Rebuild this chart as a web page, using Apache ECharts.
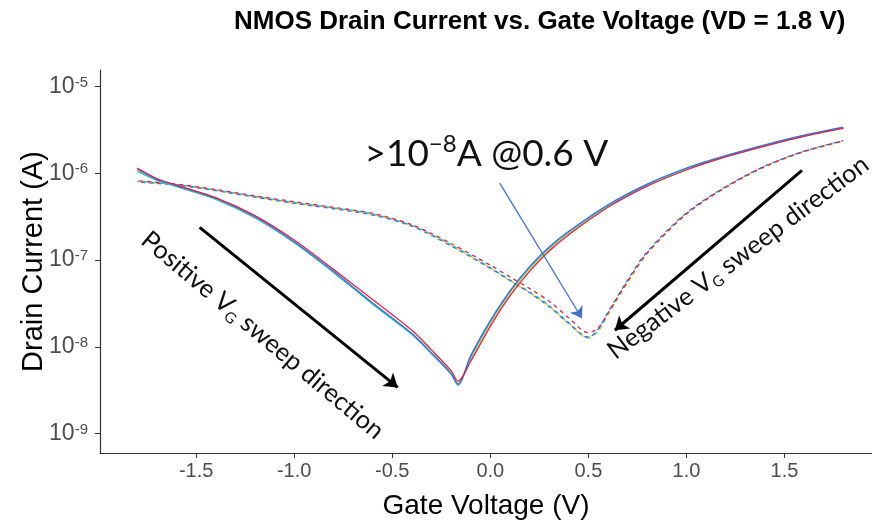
<!DOCTYPE html>
<html><head><meta charset="utf-8">
<script src="https://cdn.jsdelivr.net/npm/echarts@6/dist/echarts.min.js"></script>
<style>html,body{margin:0;padding:0;background:#fff}#c{width:872px;height:521px}</style>
</head><body><div id="c"></div>
<script>
// Forward (positive VG sweep, solid) gate voltages and drain currents per device
const fwdV = [-1.8,-1.7,-1.6,-1.4,-1.2,-1.0,-0.8,-0.6,-0.4,-0.3,-0.2,-0.165,-0.1,0,0.1,0.2,0.3,0.4,0.6,0.8,1.0,1.2,1.4,1.6,1.8];
const fwdYellow = [1.08e-6,8.4e-7,7.1e-7,5.1e-7,3.1e-7,1.6e-7,7.3e-8,3.2e-8,1.42e-8,8.6e-9,5.0e-9,3.8e-9,7.2e-9,1.85e-8,4.1e-8,7.8e-8,1.33e-7,2.03e-7,4.15e-7,7.25e-7,1.11e-6,1.56e-6,2.08e-6,2.7e-6,3.33e-6];
const fwdTeal   = [1.05e-6,8.3e-7,7.0e-7,5.0e-7,3.05e-7,1.58e-7,7.2e-8,3.1e-8,1.38e-8,8.3e-9,4.8e-9,3.6e-9,7.6e-9,1.95e-8,4.3e-8,8.2e-8,1.38e-7,2.1e-7,4.25e-7,7.4e-7,1.13e-6,1.58e-6,2.1e-6,2.72e-6,3.36e-6];
const fwdBlue   = [1.12e-6,8.5e-7,7.2e-7,5.15e-7,3.15e-7,1.62e-7,7.4e-8,3.2e-8,1.42e-8,8.5e-9,4.9e-9,3.7e-9,7.9e-9,2.0e-8,4.4e-8,8.4e-8,1.41e-7,2.14e-7,4.33e-7,7.5e-7,1.15e-6,1.6e-6,2.13e-6,2.75e-6,3.4e-6];
const fwdRed    = [1.15e-6,8.7e-7,7.3e-7,5.25e-7,3.25e-7,1.7e-7,7.8e-8,3.5e-8,1.55e-8,9.2e-9,5.3e-9,4.0e-9,6.8e-9,1.72e-8,3.85e-8,7.4e-8,1.27e-7,1.96e-7,4.05e-7,7.1e-7,1.09e-6,1.54e-6,2.06e-6,2.67e-6,3.3e-6];

// Reverse (negative VG sweep, dashed)
const revV = [-1.8,-1.6,-1.4,-1.2,-1.0,-0.8,-0.6,-0.4,-0.2,0,0.1,0.2,0.3,0.4,0.5,0.55,0.6,0.7,0.8,1.0,1.2,1.4,1.6,1.8];
const revYellow = [8.0e-7,7.35e-7,6.35e-7,5.35e-7,4.55e-7,3.95e-7,3.35e-7,2.5e-7,1.48e-7,8.1e-8,5.8e-8,4.2e-8,2.95e-8,1.85e-8,1.25e-8,1.5e-8,2.3e-8,5.4e-8,1.17e-7,3.35e-7,6.8e-7,1.18e-6,1.76e-6,2.33e-6];
const revTeal   = [8.1e-7,7.4e-7,6.4e-7,5.4e-7,4.6e-7,4.0e-7,3.4e-7,2.5e-7,1.5e-7,8.2e-8,5.9e-8,4.3e-8,3.0e-8,1.9e-8,1.3e-8,1.55e-8,2.4e-8,5.6e-8,1.2e-7,3.4e-7,6.9e-7,1.2e-6,1.78e-6,2.35e-6];
const revBlue   = [7.9e-7,7.3e-7,6.3e-7,5.3e-7,4.5e-7,3.9e-7,3.3e-7,2.45e-7,1.45e-7,8.0e-8,5.8e-8,4.2e-8,2.9e-8,1.85e-8,1.28e-8,1.6e-8,2.5e-8,5.9e-8,1.25e-7,3.5e-7,7.0e-7,1.21e-6,1.8e-6,2.38e-6];
const revRed    = [8.2e-7,7.5e-7,6.5e-7,5.5e-7,4.7e-7,4.05e-7,3.45e-7,2.55e-7,1.55e-7,8.7e-8,6.4e-8,4.7e-8,3.35e-8,2.15e-8,1.45e-8,1.65e-8,2.45e-8,5.7e-8,1.21e-7,3.42e-7,6.92e-7,1.2e-6,1.79e-6,2.36e-6];

const xTicks = [-1.5,-1.0,-0.5,0.0,0.5,1.0,1.5];
const yTicks = [1e-9,1e-8,1e-7,1e-6,1e-5];

// Annotation arrows (data coordinates: [V, A])
const arrowBlue = [[0.048, 7.7e-7],[0.467, 2.13e-8]];
const arrowPos  = [[-1.482, 2.38e-7],[-0.472, 3.4e-9]];
const arrowNeg  = [[1.589, 1.08e-6],[0.635, 1.55e-8]];
// Annotation text anchors (data coordinates)
const noteAnchor = [-0.02, 1.66e-6];
const posAnchor  = [-1.161, 1.355e-8];
const negAnchor  = [1.263, 1.07e-7];

const colors = {yellow:'#EFCB2F', teal:'#35BFC9', blue:'#3D6FD6', red:'#D62650'};
function pairs(v, ys){ return v.map((x,i)=>[x, ys[i]]); }

const series = [];
[['yellow',fwdYellow],['teal',fwdTeal],['blue',fwdBlue],['red',fwdRed]].forEach(([c,d])=>{
  series.push({type:'line', name:'fwd-'+c, data:pairs(fwdV,d), showSymbol:false, smooth:0.3,
    lineStyle:{color:colors[c], width:1.3}, itemStyle:{color:colors[c]}, z:3, silent:true});
});
[['yellow',revYellow,0],['teal',revTeal,2],['blue',revBlue,4],['red',revRed,6]].forEach(([c,d,o])=>{
  series.push({type:'line', name:'rev-'+c, data:pairs(revV,d), showSymbol:false, smooth:0.3,
    lineStyle:{color:colors[c], width:1.3, type:[4,4], dashOffset:o}, itemStyle:{color:colors[c]}, z:2, silent:true});
});
series.push({type:'line', name:'annot', data:[], silent:true,
  markLine:{silent:true, animation:false, symbol:['none','arrow'], symbolSize:13, label:{show:false},
    emphasis:{disabled:true},
    data:[
      [{coord:arrowBlue[0], lineStyle:{color:'#4472C4', width:1.3, type:'solid'}}, {coord:arrowBlue[1], symbolSize:11}],
      [{coord:arrowPos[0], lineStyle:{color:'#000', width:3, type:'solid'}}, {coord:arrowPos[1]}],
      [{coord:arrowNeg[0], lineStyle:{color:'#000', width:3, type:'solid'}}, {coord:arrowNeg[1]}]
    ]}
});

const chart = echarts.init(document.getElementById('c'));
const FF = 'Liberation Sans, Arial, sans-serif';
chart.setOption({
  animation:false,
  backgroundColor:'#fff',
  title:{text:'NMOS Drain Current vs. Gate Voltage (VD = 1.8 V)', left:229, top:4,
    textStyle:{fontFamily:FF, fontSize:26, fontWeight:'bold', color:'#000'}},
  grid:{left:100, right:0, top:70, bottom:68, outerBoundsMode:'none', containLabel:false},
  xAxis:{type:'value', min:-1.99, max:1.946,
    name:'Gate Voltage (V)', nameLocation:'middle', nameGap:39, nameMoveOverlap:false,
    nameTextStyle:{fontFamily:FF, fontSize:28, color:'#000'},
    axisLine:{show:true, onZero:false, lineStyle:{color:'#333', width:1.2}},
    axisTick:{show:true, length:5, lineStyle:{color:'#333'}, customValues:xTicks},
    axisLabel:{customValues:xTicks, formatter:v=>v.toFixed(1), fontFamily:FF, fontSize:20, color:'#4d4d4d', margin:8},
    splitLine:{show:false}},
  yAxis:{type:'log', logBase:10, min:5.96e-10, max:1.55e-5,
    name:'Drain Current (A)', nameLocation:'middle', nameGap:52, nameMoveOverlap:false,
    nameTextStyle:{fontFamily:FF, fontSize:29, color:'#000'},
    axisLine:{show:true, onZero:false, lineStyle:{color:'#333', width:1.2}},
    axisTick:{show:true, length:5, lineStyle:{color:'#333'}, customValues:yTicks},
    axisLabel:{customValues:yTicks, margin:12,
      formatter:v=>'{b|10}{s|'+Math.round(Math.log10(v))+'}',
      rich:{b:{fontFamily:FF, fontSize:23, color:'#4d4d4d'}, s:{fontFamily:FF, fontSize:15, color:'#4d4d4d', verticalAlign:'top'}}},
    splitLine:{show:false}},
  series:series
});

const p1 = chart.convertToPixel({gridIndex:0}, noteAnchor);
const p2 = chart.convertToPixel({gridIndex:0}, posAnchor);
const p3 = chart.convertToPixel({gridIndex:0}, negAnchor);
const AF = 'Lato, Open Sans, sans-serif';
chart.setOption({graphic:[
  {type:'text', x:p1[0], y:p1[1], z:10, silent:true,
    style:{text:'{a|>10}{s|\u22128}{a|A @0.6 V}', align:'center', verticalAlign:'middle',
      rich:{a:{fontFamily:AF, fontSize:37, fill:'#111', lineHeight:44}, s:{fontFamily:AF, fontSize:24, fill:'#111', verticalAlign:'top', lineHeight:40}}}},
  {type:'text', x:p2[0], y:p2[1], rotation:-40*Math.PI/180, z:10, silent:true,
    style:{text:'{a|Positive V}{g|G}{a| sweep direction}', align:'center', verticalAlign:'middle',
      rich:{a:{fontFamily:AF, fontSize:25.5, fill:'#111', lineHeight:30}, g:{fontFamily:AF, fontSize:15, fill:'#111', verticalAlign:'bottom', lineHeight:30}}}},
  {type:'text', x:p3[0], y:p3[1], rotation:37*Math.PI/180, z:10, silent:true,
    style:{text:'{a|Negative V}{g|G}{a| sweep direction}', align:'center', verticalAlign:'middle',
      rich:{a:{fontFamily:AF, fontSize:25.5, fill:'#111', lineHeight:30}, g:{fontFamily:AF, fontSize:15, fill:'#111', verticalAlign:'bottom', lineHeight:30}}}}
]});
</script></body></html>
